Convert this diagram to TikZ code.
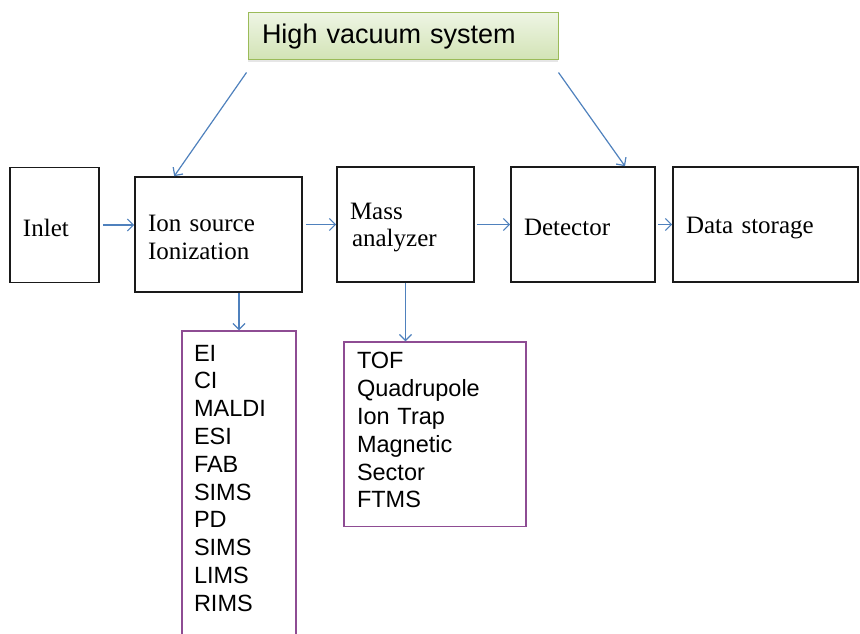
\documentclass[tikz,border=0pt]{standalone}
\usepackage{fontspec}
\setmainfont{Liberation Serif}
\setsansfont{Liberation Sans}
\usepackage{tikz}
\usetikzlibrary{arrows.meta, calc, positioning, shadows}
\usepackage{xcolor}
\definecolor{RichBlack}{HTML}{1A1A1A}
\definecolor{LinkBlue}{HTML}{4F81BD}
\definecolor{ListPurple}{HTML}{8E4C93}
\definecolor{VacGreen}{HTML}{9BBB59}
\definecolor{VacTop}{HTML}{EEF5E4}
\definecolor{VacBottom}{HTML}{D2E3B5}
\tikzset{%
  stage/.style={%
    rectangle,%
    draw=RichBlack,%
    line width=1.6pt,%
    inner xsep=13pt,%
    minimum height=115pt,%
    text height=22.5pt,%
    align=left,%
    font={\fontsize{25}{27.5}\selectfont},%
  },
  methods/.style={%
    rectangle,%
    draw=ListPurple,%
    line width=1.4pt,%
    inner xsep=12pt,%
    align=left,%
    font={\sffamily\fontsize{23.5}{27.8}\selectfont},%
  },
  vacuum/.style={%
    rectangle,%
    draw=VacGreen,%
    line width=1pt,%
    top color=VacTop,%
    bottom color=VacBottom,%
    drop shadow={opacity=0.2, shadow xshift=0pt, shadow yshift=-2.5pt},%
    minimum height=47pt,%
    inner xsep=14pt,%
    align=left,%
    font={\sffamily\fontsize{27}{32}\selectfont},%
  },
  link/.style={%
    draw=LinkBlue,%
    line width=1.2pt,%
    -{Straight Barb[length=6pt, width=12pt]},%
  },
}

\begin{document}
\begin{tikzpicture}[x=1pt, y=1pt]

    \useasboundingbox (0,0) rectangle (860,633);
    \clip (0,0) rectangle (860,633);

    % main chain of stages
    \node [stage, text width=63pt] (Inlet) at (54.5,408) {Inlet};
    \node [stage, text width=141pt, right = 34.4 of Inlet, yshift=-9.5] (Ion) {%
      Ion source\\Ionization%
    };
    \node [stage, text width=111pt, right = 33.4 of Ion, yshift=10] (Mass) {%
      Mass\\\hspace*{2pt}analyzer%
    };
    \node [stage, text width=118pt, right = 35.4 of Mass] (Detector) {Detector};
    \node [stage, text width=159pt, right = 16.4 of Detector] (Data) {Data storage};

    \node [vacuum, text width=282pt, above = 105.7 of Mass, xshift=-2.5] (HighVac) {%
      High vacuum system%
    };

    % lists of techniques
    \node [methods, text width=90pt, inner ysep=14pt, text depth=285pt,
      below = 37.5 of Ion, xshift=20.5] (IonMethods) {%
      EI\\CI\\MALDI\\ESI\\FAB\\SIMS\\PD\\SIMS\\LIMS\\RIMS%
    };
    \node [methods, text width=156pt, inner xsep=13pt, inner ysep=10.5pt, text depth=147pt,
      below = 58.5 of Mass, xshift=29.5] (Analyzers) {%
      TOF\\Quadrupole\\Ion Trap\\Magnetic\\Sector\\FTMS%
    };

    % connectors
    \draw [link, shorten <=3pt]
      (Inlet.east) -- (Inlet.east -| Ion.west);
    \draw [link, shorten <=3pt]
      (Mass.west -| Ion.east) -- (Mass.west);
    \draw [link, shorten <=2pt]
      (Mass.east) -- (Detector.west);
    \draw [link, shorten <=2pt]
      (Detector.east) -- (Data.west);
    \draw [link]
      ($(HighVac.south west)+(-1,-12)$)
      --
      ($(Ion.north west)+(40,0)$);
    \draw [link]
      ($(HighVac.south east)+(0,-12)$)
      --
      ($(Detector.north)+(42,0)$);
    \draw [link]
      (IonMethods.north |- Ion.south) -- (IonMethods.north);
    \draw [link]
      (Mass.south) -- (Mass.south |- Analyzers.north);
  \end{tikzpicture}
\end{document}
